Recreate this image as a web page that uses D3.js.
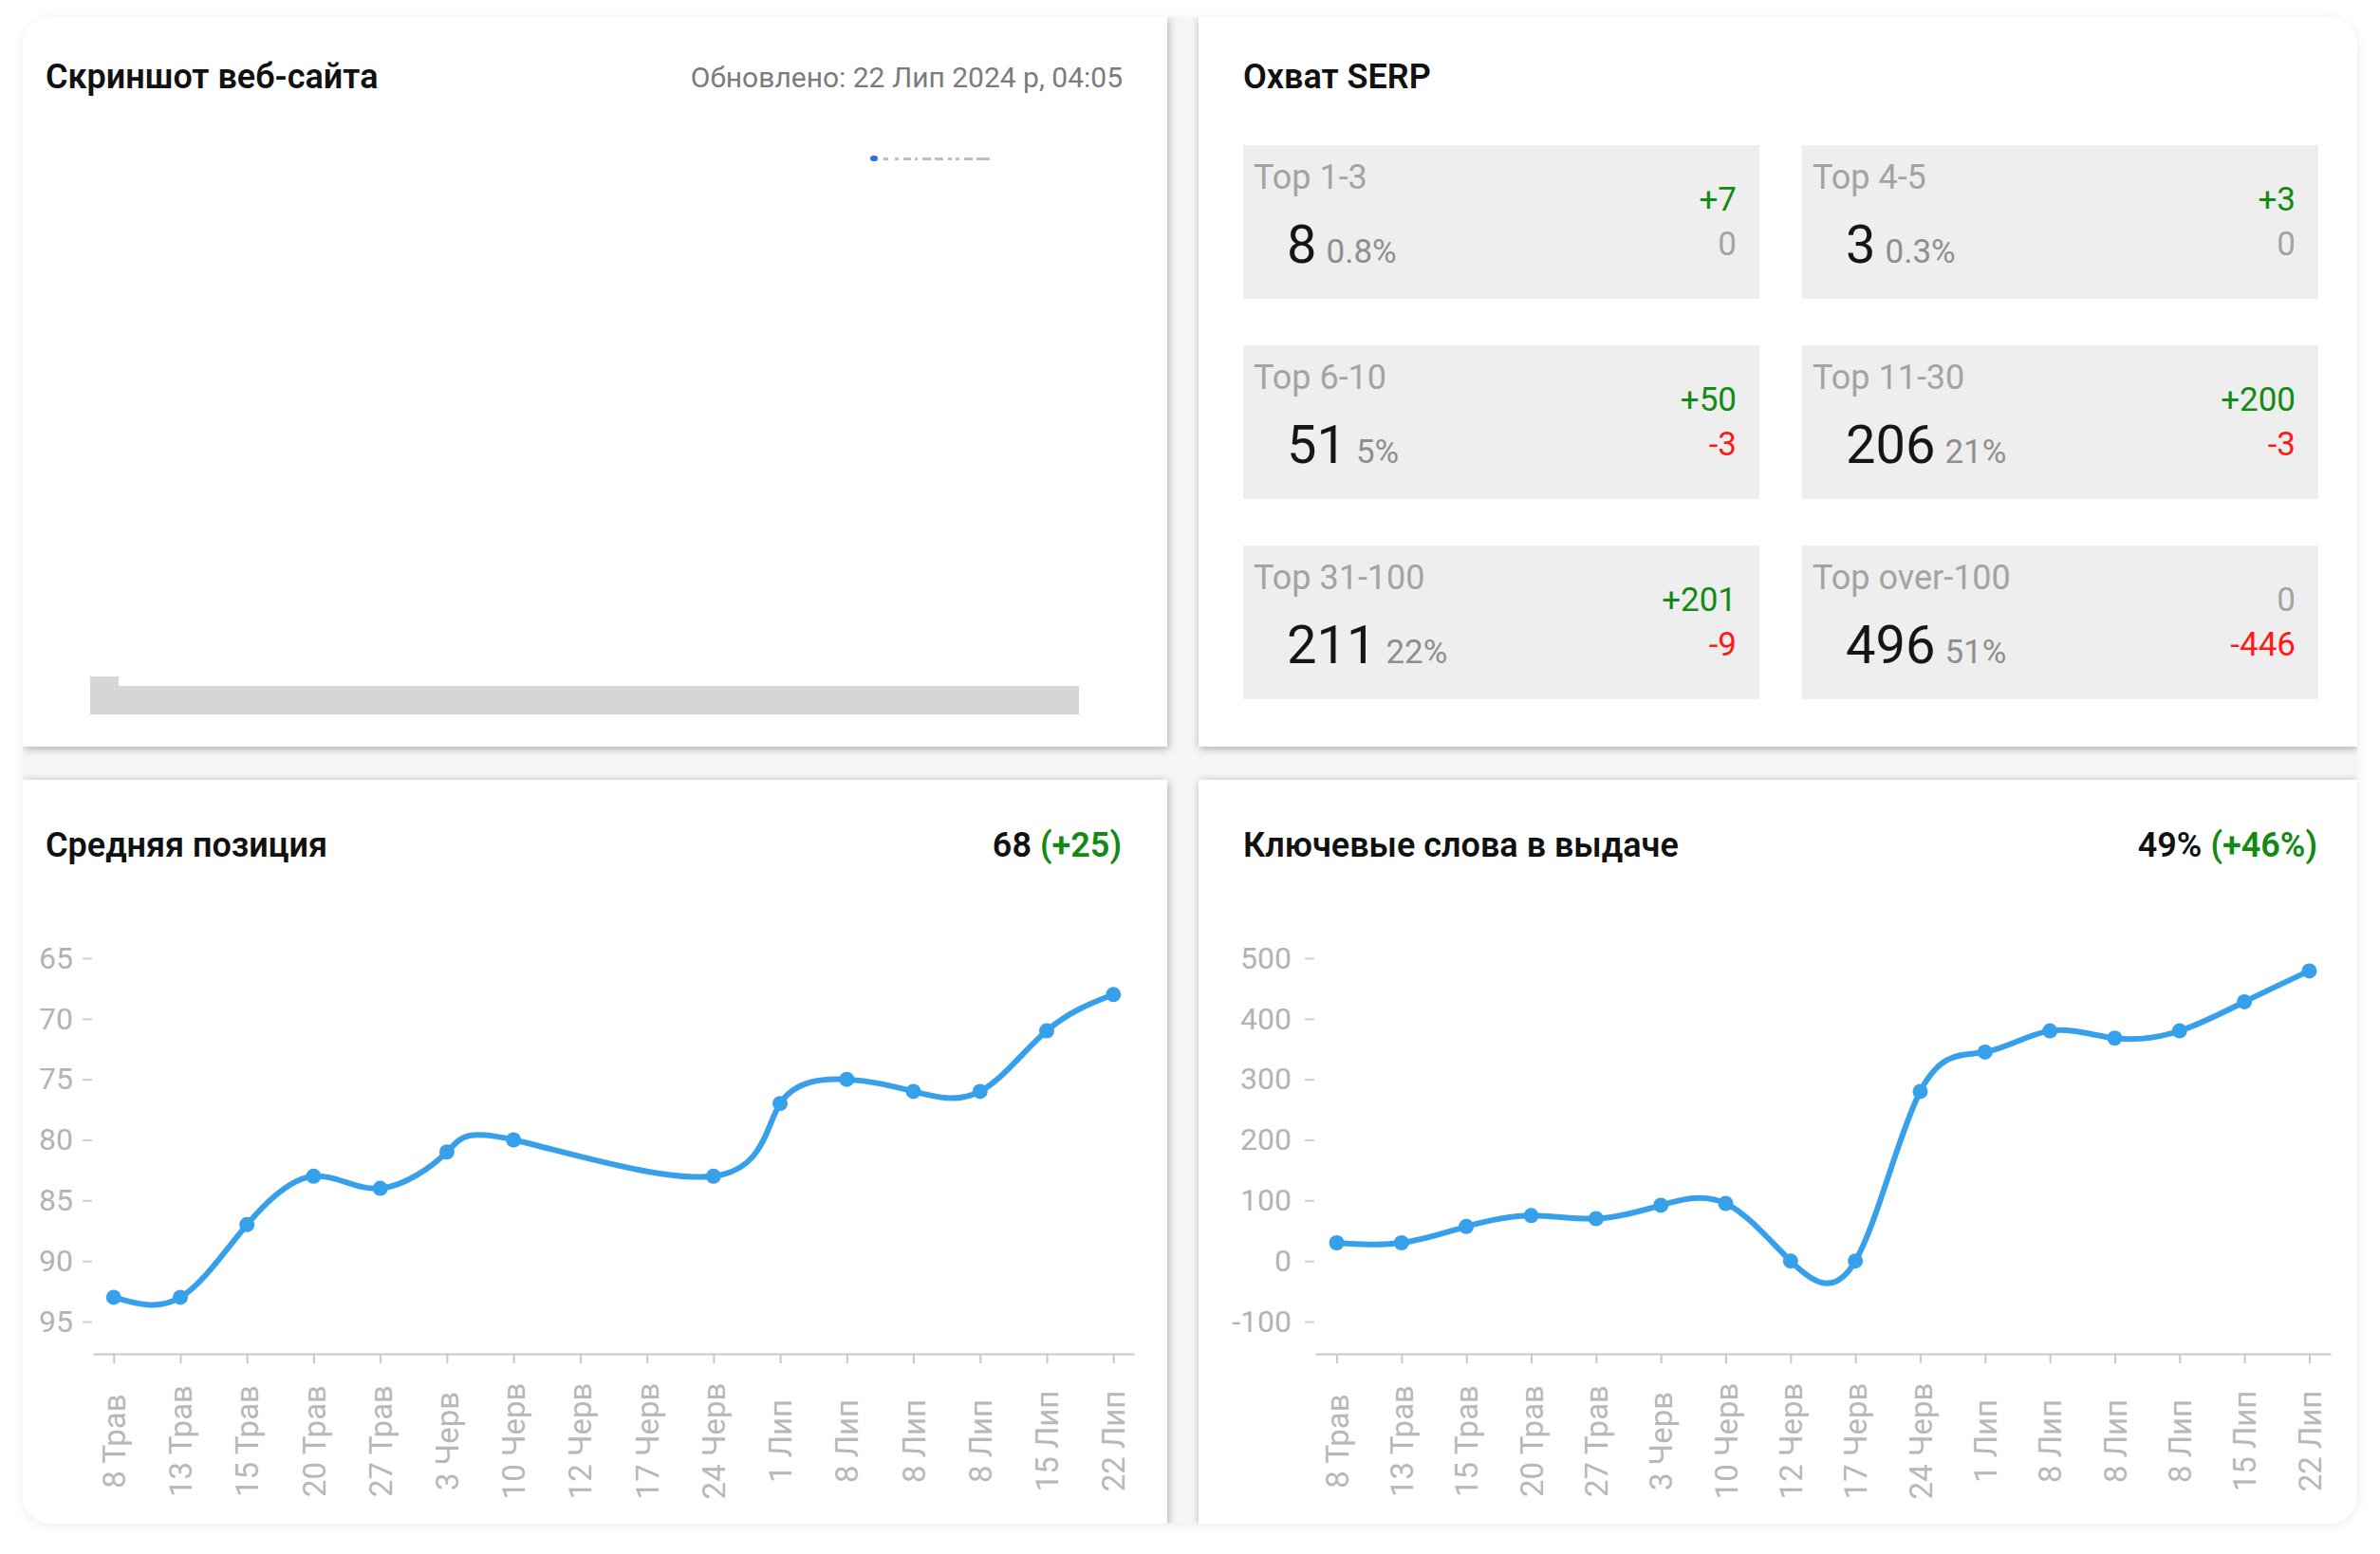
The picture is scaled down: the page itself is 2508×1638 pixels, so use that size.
<!DOCTYPE html>
<html>
<head>
<meta charset="utf-8">
<script src="https://cdn.jsdelivr.net/npm/d3@7"></script>
<style>
    html, body { margin: 0; padding: 0; background: #ffffff; }
    svg { display: block; font-family: Roboto, "Noto Sans", sans-serif; }
</style>
</head>
<body>
<div id="dashboard"></div>
<script>
// ---- data ----
const dateLabels = ["8 Трав", "13 Трав", "15 Трав", "20 Трав", "27 Трав", "3 Черв", "10 Черв", "12 Черв",
                    "17 Черв", "24 Черв", "1 Лип", "8 Лип", "8 Лип", "8 Лип", "15 Лип", "22 Лип"];
const avgPosition = [93, 93, 87, 83, 84, 81, 80, null, null, 83, 77, 75, 76, 76, 71, 68];
const keywordsInSerp = [30, 30, 57, 75, 70, 92, 95, 0, 0, 280, 345, 380, 368, 380, 428, 479];
const positionTicks = [65, 70, 75, 80, 85, 90, 95];
const keywordTicks = [500, 400, 300, 200, 100, 0, -100];

const serpLabels = ["Top 1-3", "Top 4-5", "Top 6-10", "Top 11-30", "Top 31-100", "Top over-100"];
const serpCounts = [8, 3, 51, 206, 211, 496];
const serpShares = ["0.8%", "0.3%", "5%", "21%", "22%", "51%"];
const serpGained = ["+7", "+3", "+50", "+200", "+201", "0"];
const serpLost = ["0", "0", "-3", "-3", "-9", "-446"];

const W = 2508, H = 1638;
const BLUE = "#37a0eb";
const GREEN = "#138a13";
const RED = "#ff1a1a";

const svg = d3.select("#dashboard")
    .append("svg")
    .attr("width", W)
    .attr("height", H);

const defs = svg.append("defs");

// soft shadow for the cards
const cardShadow = defs.append("filter")
    .attr("id", "cardShadow")
    .attr("x", "-5%").attr("y", "-5%")
    .attr("width", "110%").attr("height", "110%");
cardShadow.append("feDropShadow")
    .attr("dx", 1).attr("dy", 2)
    .attr("stdDeviation", 5)
    .attr("flood-color", "#000")
    .attr("flood-opacity", 0.32);

const outerShadow = defs.append("filter")
    .attr("id", "outerShadow")
    .attr("x", "-5%").attr("y", "-5%")
    .attr("width", "110%").attr("height", "110%");
outerShadow.append("feDropShadow")
    .attr("dx", 0).attr("dy", 2)
    .attr("stdDeviation", 6)
    .attr("flood-color", "#000")
    .attr("flood-opacity", 0.08);

// whole dashboard frame (rounded screenshot)
const frame = { x: 24, y: 18, w: 2460, h: 1588, r: 30 };
defs.append("clipPath").attr("id", "frameClip")
    .append("rect")
    .attr("x", frame.x).attr("y", frame.y)
    .attr("width", frame.w).attr("height", frame.h)
    .attr("rx", frame.r);

svg.append("rect")
    .attr("x", frame.x).attr("y", frame.y)
    .attr("width", frame.w).attr("height", frame.h)
    .attr("rx", frame.r)
    .attr("fill", "#f6f6f6")
    .attr("filter", "url(#outerShadow)");

const board = svg.append("g").attr("clip-path", "url(#frameClip)");

const cards = [
    { x: 24, y: 18, w: 1206, h: 769 },
    { x: 1263, y: 18, w: 1221, h: 769 },
    { x: 24, y: 822, w: 1206, h: 784 },
    { x: 1263, y: 822, w: 1221, h: 784 }
];

board.selectAll(".card")
    .data(cards)
    .enter()
    .append("rect")
    .attr("class", "card")
    .attr("x", d => d.x).attr("y", d => d.y)
    .attr("width", d => d.w).attr("height", d => d.h)
    .attr("fill", "#ffffff")
    .attr("filter", "url(#cardShadow)");

// titles
function title(x, y, text) {
    return board.append("text")
        .attr("x", x).attr("y", y)
        .attr("font-size", 36)
        .attr("font-weight", 600)
        .attr("fill", "#111")
        .text(text);
}

title(48, 93, "Скриншот веб-сайта");
title(1310, 93, "Охват SERP");
title(48, 903, "Средняя позиция");
title(1310, 903, "Ключевые слова в выдаче");

board.append("text")
    .attr("x", 1183).attr("y", 92)
    .attr("text-anchor", "end")
    .attr("font-size", 30)
    .attr("fill", "#7b7b7b")
    .text("Обновлено: 22 Лип 2024 р, 04:05");

// summary values on the chart cards
function summary(x, main, delta) {
    const t = board.append("text")
        .attr("x", x).attr("y", 903)
        .attr("text-anchor", "end")
        .attr("font-size", 36)
        .attr("font-weight", 600)
        .attr("fill", "#111");
    t.append("tspan").text(main + " ");
    t.append("tspan").attr("fill", GREEN).text("(" + delta + ")");
}
summary(1182, "68", "+25");
summary(2442, "49%", "+46%");

// ---- screenshot placeholder (blurred, unreadable line) ----
board.append("rect")
    .attr("x", 917).attr("y", 164)
    .attr("width", 8).attr("height", 6)
    .attr("rx", 3)
    .attr("fill", "#3a6fe0");
board.selectAll(".dash")
    .data([[931, 5], [943, 4], [952, 8], [964, 3], [972, 9], [985, 9], [999, 4], [1007, 4], [1016, 9], [1029, 14]])
    .enter()
    .append("rect")
    .attr("class", "dash")
    .attr("x", d => d[0]).attr("y", 166)
    .attr("width", d => d[1]).attr("height", 3)
    .attr("fill", "#8a8a8a")
    .attr("opacity", 0.55);

board.append("path")
    .attr("d", "M95,713 H125 V723 H1137 V753 H95 Z")
    .attr("fill", "#d6d6d6");

// ---- SERP coverage tiles ----
const tileCols = [1310, 1899];
const tileRows = [153, 364, 575];
const tileW = 544, tileH = 162;

const tiles = board.selectAll(".tile")
    .data(serpLabels)
    .enter()
    .append("g")
    .attr("class", "tile")
    .attr("transform", (d, i) => `translate(${tileCols[i % 2]},${tileRows[Math.floor(i / 2)]})`);

tiles.append("rect")
    .attr("width", tileW).attr("height", tileH)
    .attr("fill", "#eeeeee");

tiles.append("text")
    .attr("x", 11).attr("y", 46)
    .attr("font-size", 36)
    .attr("fill", "#a3a3a3")
    .text(d => d);

const bigNum = tiles.append("text")
    .attr("x", 46).attr("y", 124);
bigNum.append("tspan")
    .attr("font-size", 56)
    .attr("fill", "#151515")
    .text((d, i) => serpCounts[i]);
bigNum.append("tspan")
    .attr("dx", 10)
    .attr("font-size", 35)
    .attr("fill", "#8e8e8e")
    .text((d, i) => serpShares[i]);

function deltaColor(v) {
    if (v.startsWith("+")) return GREEN;
    if (v.startsWith("-")) return RED;
    return "#a3a3a3";
}

tiles.append("text")
    .attr("x", tileW - 24).attr("y", 69)
    .attr("text-anchor", "end")
    .attr("font-size", 35)
    .attr("fill", (d, i) => deltaColor(serpGained[i]))
    .text((d, i) => serpGained[i]);

tiles.append("text")
    .attr("x", tileW - 24).attr("y", 116)
    .attr("text-anchor", "end")
    .attr("font-size", 35)
    .attr("fill", (d, i) => deltaColor(serpLost[i]))
    .text((d, i) => serpLost[i]);

// ---- line charts ----
function drawLineChart(opts) {
    const g = board.append("g");
    const idx = d3.range(dateLabels.length);

    const x = d3.scalePoint()
        .domain(idx)
        .range(opts.xRange)
        .padding(opts.padding);

    const y = d3.scaleLinear()
        .domain(opts.yDomain)
        .range([1010, 1393]);

    // y axis (ticks only, no line)
    const yAxis = g.append("g")
        .attr("transform", `translate(${opts.yAxisX},0)`)
        .call(d3.axisLeft(y)
            .tickValues(opts.yTicks)
            .tickFormat(d => String(d))
            .tickSize(10)
            .tickPadding(opts.tickPad));
    yAxis.select(".domain").remove();
    yAxis.selectAll(".tick line")
        .attr("stroke", "#cfcfcf")
        .attr("stroke-width", 2);
    yAxis.selectAll(".tick text")
        .attr("font-family", "Roboto, sans-serif")
        .attr("font-size", 32)
        .attr("fill", "#b3b3b3");

    // x axis
    const xAxis = g.append("g")
        .attr("transform", "translate(0,1427)")
        .call(d3.axisBottom(x)
            .tickSize(10)
            .tickSizeOuter(0)
            .tickFormat(i => dateLabels[i]));
    xAxis.select(".domain")
        .attr("stroke", "#c8c8c8")
        .attr("stroke-width", 2);
    xAxis.selectAll(".tick line")
        .attr("stroke", "#c8c8c8")
        .attr("stroke-width", 2);
    xAxis.selectAll(".tick text")
        .attr("font-family", "Roboto, sans-serif")
        .attr("font-size", 33)
        .attr("fill", "#b8b8b8")
        .attr("transform", "rotate(-90)")
        .attr("x", -92)
        .attr("y", 0)
        .attr("dy", "0.35em")
        .style("text-anchor", "middle");

    // missing points are skipped and the line joins across them
    const pts = idx
        .map(i => ({ i: i, v: opts.values[i] }))
        .filter(d => d.v !== null);

    const line = d3.line()
        .x(d => x(d.i))
        .y(d => y(d.v))
        .curve(d3.curveNatural);

    g.append("path")
        .datum(pts)
        .attr("d", line)
        .attr("fill", "none")
        .attr("stroke", BLUE)
        .attr("stroke-width", 6)
        .attr("stroke-linejoin", "round");

    g.selectAll(".pt")
        .data(pts)
        .enter()
        .append("circle")
        .attr("class", "pt")
        .attr("cx", d => x(d.i))
        .attr("cy", d => y(d.v))
        .attr("r", 8)
        .attr("fill", BLUE);
}

drawLineChart({
    xRange: [98, 1195],
    padding: 0.31,
    yDomain: [65, 95],
    yTicks: positionTicks,
    yAxisX: 97,
    tickPad: 10,
    values: avgPosition
});

drawLineChart({
    xRange: [1386, 2456],
    padding: 0.33,
    yDomain: [500, -100],
    yTicks: keywordTicks,
    yAxisX: 1385,
    tickPad: 14,
    values: keywordsInSerp
});
</script>
</body>
</html>
